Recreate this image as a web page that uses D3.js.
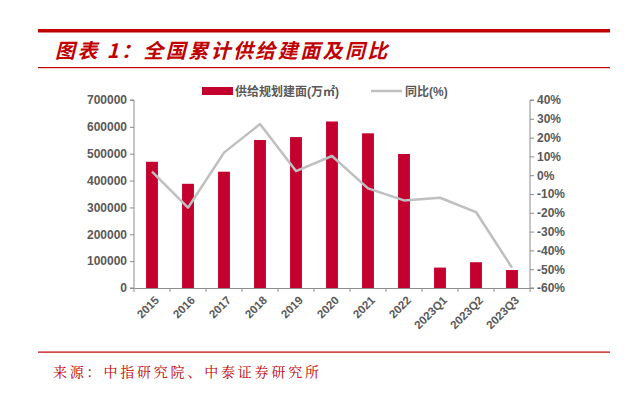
<!DOCTYPE html>
<html>
<head>
<meta charset="utf-8">
<script src="https://cdn.jsdelivr.net/npm/d3@7"></script>
<style>
  body { margin: 0; background: #fff; }
  svg { display: block; }
</style>
</head>
<body>
<svg id="chart"></svg>
<script>
const categories = ["2015", "2016", "2017", "2018", "2019", "2020", "2021", "2022", "2023Q1", "2023Q2", "2023Q3"];
const supplyArea = [470000, 388000, 433000, 551000, 562000, 620000, 576000, 499000, 76000, 96000, 67000];
const yoy = [1.9, -17.3, 12, 27.2, 2.2, 10.2, -7, -13.4, -12, -19.6, -49.2];
const leftTicks = [0, 100000, 200000, 300000, 400000, 500000, 600000, 700000];
const rightTicks = [-60, -50, -40, -30, -20, -10, 0, 10, 20, 30, 40];

const width = 632;
const height = 394;
const barColor = "#C4002F";
const lineColor = "#BFBFBF";
const textColor = "#595959";
const red = "#C00000";
const font = "Liberation Sans, Arial, 'Noto Sans CJK SC', sans-serif";

const svg = d3.select("#chart")
  .attr("width", width)
  .attr("height", height)
  .style("font-family", font);

// header rules and title
svg.append("rect").attr("x", 38).attr("y", 29).attr("width", 572).attr("height", 3.5).attr("fill", red);
svg.append("rect").attr("x", 38).attr("y", 67).attr("width", 572).attr("height", 1.2).attr("fill", red);
svg.append("text")
  .attr("x", 55).attr("y", 58)
  .attr("fill", red)
  .style("font-size", "20px")
  .style("font-weight", "bold")
  .style("font-style", "italic")
  .style("letter-spacing", "2.4px")
  .style("font-family", "'Noto Sans CJK SC', sans-serif")
  .text("图表 1：全国累计供给建面及同比");

// footer
svg.append("rect").attr("x", 38).attr("y", 351.5).attr("width", 572).attr("height", 1.2).attr("fill", red);
svg.append("text")
  .attr("x", 53).attr("y", 377)
  .attr("fill", red)
  .style("font-size", "14px")
  .style("font-family", "'Noto Serif CJK SC', 'Noto Sans CJK SC', serif")
  .style("letter-spacing", "2.8px")
  .text("来源：中指研究院、中泰证券研究所");

const plot = { left: 134, right: 530, top: 100, bottom: 288 };

const x = d3.scaleBand()
  .domain(categories)
  .range([plot.left, plot.right])
  .paddingInner(0.67)
  .paddingOuter(0.335);

const xCenter = d3.scalePoint()
  .domain(categories)
  .range([plot.left, plot.right])
  .padding(0.5);

const yLeft = d3.scaleLinear().domain([0, 700000]).range([plot.bottom, plot.top]);
const yRight = d3.scaleLinear().domain([-60, 40]).range([plot.bottom, plot.top]);

// bars
svg.append("g")
  .selectAll("rect")
  .data(supplyArea)
  .join("rect")
  .attr("x", (d, i) => x(categories[i]))
  .attr("y", d => yLeft(d))
  .attr("width", x.bandwidth())
  .attr("height", d => plot.bottom - yLeft(d))
  .attr("fill", barColor);

// yoy line
const line = d3.line()
  .x((d, i) => xCenter(categories[i]))
  .y(d => yRight(d));

svg.append("path")
  .datum(yoy)
  .attr("d", line)
  .attr("fill", "none")
  .attr("stroke", lineColor)
  .attr("stroke-width", 2.5)
  .attr("stroke-linejoin", "round");

// axes
const axisColor = "#8C8C8C";

const leftAxis = svg.append("g")
  .attr("transform", `translate(${plot.left},0)`)
  .call(d3.axisLeft(yLeft).tickValues(leftTicks).tickSize(4).tickPadding(3).tickFormat(d3.format("d")));

const rightAxis = svg.append("g")
  .attr("transform", `translate(${plot.right},0)`)
  .call(d3.axisRight(yRight).tickValues(rightTicks).tickSize(4).tickPadding(3).tickFormat(d => d + "%"));

const xAxis = svg.append("g")
  .attr("transform", `translate(0,${plot.bottom})`)
  .call(d3.axisBottom(xCenter).tickSize(0).tickFormat(""));

// category boundary ticks on x axis
const step = (plot.right - plot.left) / categories.length;
xAxis.selectAll(".bound")
  .data(d3.range(categories.length + 1))
  .join("line")
  .attr("class", "bound")
  .attr("x1", i => plot.left + i * step)
  .attr("x2", i => plot.left + i * step)
  .attr("y1", 0)
  .attr("y2", 4)
  .attr("stroke", axisColor);

xAxis.selectAll(".cat")
  .data(categories)
  .join("text")
  .attr("class", "cat")
  .attr("transform", d => `translate(${xCenter(d) + 5},${10}) rotate(-45)`)
  .attr("text-anchor", "end")
  .attr("dy", "0.35em")
  .attr("fill", textColor)
  .style("font-size", "11.5px")
  .style("font-weight", "bold")
  .text(d => d);

[leftAxis, rightAxis, xAxis].forEach(g => {
  g.selectAll(".domain").attr("stroke", axisColor);
  g.selectAll(".tick line").attr("stroke", axisColor);
  g.selectAll(".tick text")
    .attr("fill", textColor)
    .style("font-size", "12px")
    .style("font-weight", "bold")
    .style("font-family", font);
});
leftAxis.select(".domain").attr("d", `M-4,${plot.top}H0V${plot.bottom}H-4`);
rightAxis.select(".domain").attr("d", `M4,${plot.top}H0V${plot.bottom}H4`);

// legend
const legend = svg.append("g").style("font-size", "12px").style("font-weight", "bold");
legend.append("rect").attr("x", 202).attr("y", 87).attr("width", 31).attr("height", 8).attr("fill", barColor);
legend.append("text").attr("x", 235).attr("y", 95.5).attr("fill", textColor).text("供给规划建面(万㎡)");
legend.append("line").attr("x1", 371).attr("x2", 402).attr("y1", 91).attr("y2", 91)
  .attr("stroke", lineColor).attr("stroke-width", 2.5);
legend.append("text").attr("x", 405).attr("y", 95.5).attr("fill", textColor).text("同比(%)");
</script>
</body>
</html>
